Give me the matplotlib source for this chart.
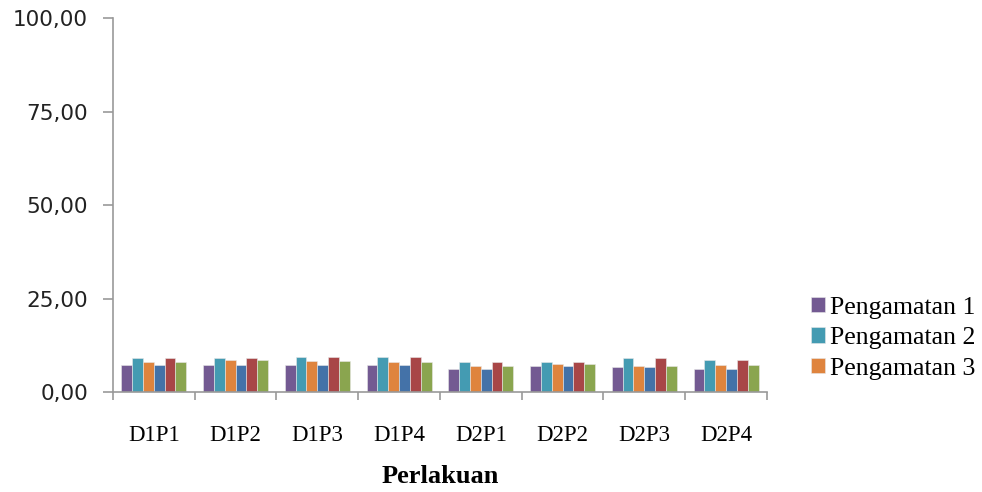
import matplotlib.pyplot as plt
import numpy as np

perlakuan = ['D1P1', 'D1P2', 'D1P3', 'D1P4', 'D2P1', 'D2P2', 'D2P3', 'D2P4']
seri = ['Pengamatan 1', 'Pengamatan 2', 'Pengamatan 3',
        'Pengamatan 4', 'Pengamatan 5', 'Pengamatan 6']
pengamatan_1 = [7.3, 7.3, 7.3, 7.3, 6.25, 6.95, 6.6, 6.25]
pengamatan_2 = [9.0, 9.0, 9.45, 9.45, 7.95, 7.95, 9.0, 8.65]
pengamatan_3 = [7.95, 8.65, 8.3, 7.95, 6.95, 7.55, 6.95, 7.3]
pengamatan_4 = [7.3, 7.3, 7.3, 7.3, 6.25, 6.95, 6.6, 6.25]
pengamatan_5 = [9.0, 9.0, 9.45, 9.45, 7.95, 7.95, 9.0, 8.65]
pengamatan_6 = [7.95, 8.65, 8.3, 7.95, 6.95, 7.55, 6.95, 7.3]
nilai = [pengamatan_1, pengamatan_2, pengamatan_3,
         pengamatan_4, pengamatan_5, pengamatan_6]
warna = ['#735a92', '#449bb2', '#df843e', '#4472a8', '#a84647', '#8aa54f']

fig = plt.figure(figsize=(9.82, 4.92), dpi=100)
ax = fig.add_axes([0.115, 0.203, 0.666, 0.760])

x = np.arange(len(perlakuan))
lebar = 0.1325
bars = []
for i, (v, c) in enumerate(zip(nilai, warna)):
    b = ax.bar(x + (i - 2.5) * lebar, v, lebar, color=c,
               edgecolor='#e8e8e8', linewidth=0.4, label=seri[i])
    bars.append(b)

ax.set_xlim(-0.5, len(perlakuan) - 0.5)
ax.set_ylim(0, 100)
ax.set_yticks([0, 25, 50, 75, 100])
ax.set_yticklabels(['0,00', '25,00', '50,00', '75,00', '100,00'],
                   fontsize=15.5, color='#222222')
ax.set_xticks(x)
ax.set_xticklabels(perlakuan, family='Liberation Serif', fontsize=16.5)
ax.set_xticks(np.arange(len(perlakuan) + 1) - 0.5, minor=True)
ax.tick_params(axis='x', which='major', length=0, pad=24)
ax.tick_params(axis='x', which='minor', length=6, color='#999999', width=1.2)
ax.tick_params(axis='y', length=7, color='#999999', width=1.2, pad=11)

for s in ['top', 'right']:
    ax.spines[s].set_visible(False)
for s in ['left', 'bottom']:
    ax.spines[s].set_color('#999999')
    ax.spines[s].set_linewidth(1.2)

ax.set_xlabel('Perlakuan', family='Liberation Serif', fontsize=19,
              fontweight='bold', labelpad=13)

ax.legend(bars[:3], seri[:3], loc='upper left', bbox_to_anchor=(1.052, 0.283),
          frameon=False, prop={'family': 'Liberation Serif', 'size': 18.5},
          handlelength=0.55, handleheight=0.55, handletextpad=0.18,
          labelspacing=0.33, borderaxespad=0)

fig.savefig('out.png', dpi=100)
